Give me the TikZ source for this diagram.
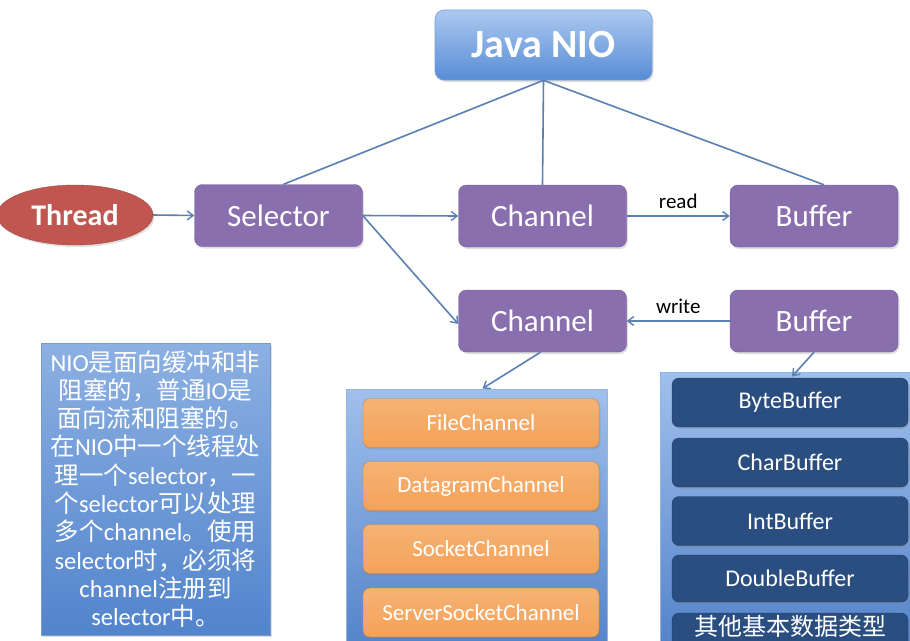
\documentclass[tikz,border=0pt]{standalone}
\usepackage{fontspec}
\setmainfont{Carlito}
\newfontfamily\cjk{Noto Sans CJK SC}
\usetikzlibrary{shapes.geometric,arrows.meta,shadows}
\newcommand{\myzh}[1]{{\cjk #1}}
\definecolor{purp}{HTML}{8A6FAE}
\definecolor{lnk}{HTML}{5B80B2}
\definecolor{redbox}{HTML}{C0564F}
\definecolor{orng}{HTML}{F4A259}
\definecolor{orngtop}{HTML}{F6B273}
\definecolor{navy}{HTML}{2B4E80}
\definecolor{javatop}{HTML}{ACC9F0}
\definecolor{javabot}{HTML}{588CD6}
\definecolor{javaline}{HTML}{78A0D7}
\definecolor{infotop}{HTML}{8CB0E2}
\definecolor{infobot}{HTML}{5284CC}
\definecolor{infoline}{HTML}{789BCD}
\definecolor{conttop}{HTML}{A0C0EC}
\definecolor{contbot}{HTML}{5080C8}
\definecolor{contline}{HTML}{96B4DC}
\tikzset{
  softshadow/.style={drop shadow={opacity=0.25,shadow xshift=1.5pt,shadow yshift=-2pt}},
  purpbox/.style={rectangle,rounded corners=8pt,fill=purp,draw=purp!85!black,line width=0.4pt,
    minimum width=168pt,minimum height=62pt,inner sep=0pt,text=white,
    font=\fontsize{31}{34}\selectfont,softshadow},
  orbox/.style={rectangle,rounded corners=7pt,top color=orngtop,bottom color=orng,draw=orng!80!black,
    line width=0.4pt,minimum width=236pt,minimum height=49pt,inner sep=0pt,text=white,
    font=\fontsize{23}{26}\selectfont,softshadow},
  nvbox/.style={rectangle,rounded corners=7pt,fill=navy,draw=navy!80!black,line width=0.4pt,
    minimum width=236pt,minimum height=49pt,inner sep=0pt,text=white,
    font=\fontsize{24}{26}\selectfont,softshadow},
  contbox/.style={rectangle,top color=conttop,bottom color=contbot,draw=contline,line width=1pt,inner sep=0pt},
  conn/.style={draw=lnk,line width=1.6pt},
  arr/.style={conn,-{Straight Barb[length=6pt,width=9pt,line width=1.4pt]}},
  lbl/.style={font=\fontsize{21}{24}\selectfont,text=black}
}
\begin{document}
\begin{tikzpicture}[x=1pt,y=-1pt]
\useasboundingbox (0,0) rectangle (910,640);
\fill[white] (0,0) rectangle (910,640);
\begin{scope}
\clip (0,0) rectangle (910,640);
% top node
\node[rectangle,rounded corners=9pt,top color=javatop,bottom color=javabot,
  draw=javaline,line width=0.6pt,minimum width=217pt,minimum height=70pt,inner sep=0pt,
  text=white,font=\fontsize{40}{44}\selectfont\bfseries,softshadow] (java) at (543.5,45) {Java NIO};
% row 1
\node[ellipse,fill=redbox,draw=redbox!85!black,line width=0.4pt,minimum width=156pt,minimum height=60pt,inner sep=0pt,
  text=white,font=\fontsize{30}{32}\selectfont\bfseries,softshadow] (thread) at (75,215) {Thread};
\node[purpbox] (sel) at (278.5,215.5) {Selector};
\node[purpbox] (ch1) at (542.5,216) {Channel};
\node[purpbox] (buf1) at (814,216) {Buffer};
% row 2
\node[purpbox] (ch2) at (542.5,321) {Channel};
\node[purpbox] (buf2) at (814,321) {Buffer};
% info box
\node[rectangle,top color=infotop,bottom color=infobot,
  draw=infoline,line width=0.8pt,minimum width=229pt,minimum height=292pt,inner sep=0pt,
  text=white,align=center,font=\fontsize{24.5}{28.3}\selectfont,softshadow] (info) at (155.5,489)
  {NIO\myzh{是面向缓冲和非}\\
   \myzh{阻塞的，普通}IO\myzh{是}\\
   \myzh{面向流和阻塞的。}\\
   \myzh{在}NIO\myzh{中一个线程处}\\
   \myzh{理一个}selector\myzh{，一}\\
   \myzh{个}selector\myzh{可以处理}\\
   \myzh{多个}channel\myzh{。使用}\\
   selector\myzh{时，必须将}\\
   channel\myzh{注册到}\\
   selector\myzh{中。}};
% channel container
\node[contbox,minimum width=261pt,minimum height=271pt] (chcont) at (476.5,524.5) {};
\node[orbox] (fc) at (481,423) {FileChannel};
\node[orbox] (dc) at (481,486) {DatagramChannel};
\node[orbox] (sc) at (481,549) {SocketChannel};
\node[orbox] (ssc) at (481,612.5) {ServerSocketChannel};
% buffer container
\node[contbox,minimum width=270pt,minimum height=288pt] (bufcont) at (795,516) {};
\node[nvbox] (bb) at (790,402.5) {ByteBuffer};
\node[nvbox] (cb) at (790,462.5) {CharBuffer};
\node[nvbox] (ib) at (790,521) {IntBuffer};
\node[nvbox,minimum height=47pt] (db) at (790,578.5) {DoubleBuffer};
\node[nvbox,minimum height=40pt] (ob) at (790,633) {};
\node[text=white,font=\fontsize{24}{26}\selectfont\cjk,inner sep=0pt] (obt) at (790,626) {其他基本数据类型};
% connectors
\draw[conn] (java.south) -- ([xshift=5pt]sel.north);
\draw[conn] (java.south) -- (ch1.north);
\draw[conn] (java.south) -- ([xshift=10pt]buf1.north);
\draw[arr] (thread.east) -- (sel.west);
\draw[arr] (sel.east) -- (ch1.west);
\draw[arr] (ch1.east) -- node[lbl,above=3pt] {read} (buf1.west);
\draw[arr] (buf2.west) -- node[lbl,above=3pt] {write} (ch2.east);
\draw[arr] (sel.east) -- ([yshift=-3pt]ch2.west);
\draw[arr] ([xshift=-2pt]ch2.south) -- ([xshift=6pt]chcont.north);
\draw[arr] (buf2.south) -- ([xshift=-3pt,yshift=-5pt]bufcont.north);
\end{scope}
\end{tikzpicture}
\end{document}
